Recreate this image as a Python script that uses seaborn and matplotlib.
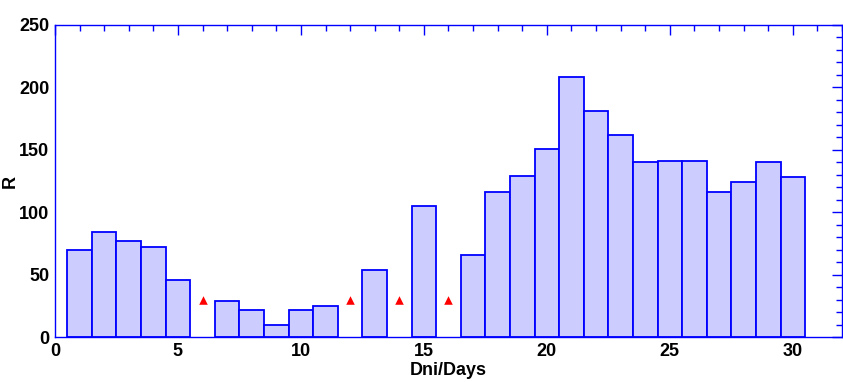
import matplotlib
matplotlib.use("Agg")
import matplotlib.pyplot as plt
from matplotlib.ticker import MultipleLocator
import seaborn as sns
import pandas as pd

# measured days and R values (days 6, 12, 14, 16 missing)
days = [1, 2, 3, 4, 5, 7, 8, 9, 10, 11, 13, 15, 17, 18, 19, 20,
        21, 22, 23, 24, 25, 26, 27, 28, 29, 30]
r_vals = [70, 84, 77, 72, 46, 29, 22, 10, 22, 25, 54, 105, 66, 116, 129, 151,
          208, 181, 162, 140, 141, 141, 116, 124, 140, 128]

# days without data, flagged with markers
miss_days = [6, 12, 14, 16]
miss_vals = [30, 30, 30, 30]

df = pd.DataFrame({"day": days, "R": r_vals})
miss = pd.DataFrame({"day": miss_days, "R": miss_vals})

sns.set_style("white")
plt.rcParams["font.family"] = ["Liberation Sans", "DejaVu Sans"]
plt.rcParams["font.weight"] = "bold"
plt.rcParams["text.color"] = "black"
plt.rcParams["axes.labelcolor"] = "black"

fig = plt.figure(figsize=(8.43, 3.82), dpi=100)
ax = fig.add_axes([0.0652, 0.1178, 0.9336, 0.8168])

sns.barplot(data=df, x="day", y="R", native_scale=True, width=1,
            color="#ccccff", saturation=1, edgecolor="#0000ff",
            linewidth=1.3, ax=ax)
sns.scatterplot(data=miss, x="day", y="R", marker="^", color="red",
                s=38, linewidth=0, ax=ax, zorder=5)

ax.set_xlim(0, 32)
ax.set_ylim(0, 250)
ax.xaxis.set_major_locator(MultipleLocator(5))
ax.xaxis.set_minor_locator(MultipleLocator(1))
ax.yaxis.set_major_locator(MultipleLocator(50))
ax.yaxis.set_minor_locator(MultipleLocator(10))

ax.tick_params(which="both", direction="in", top=True, right=True,
               color="#0000ff", width=1, labelsize=13, labelcolor="black")
ax.tick_params(which="major", length=7.5, pad=4)
ax.tick_params(which="minor", length=4)
for s in ax.spines.values():
    s.set_color("#0000ff")
    s.set_linewidth(1)

ax.set_xlabel("Dni/Days", fontsize=13, fontweight="bold", labelpad=2)
ax.set_ylabel("R", fontsize=13, fontweight="bold")
ax.yaxis.set_label_coords(-0.046, 0.5)

fig.savefig("out.png", dpi=100)
